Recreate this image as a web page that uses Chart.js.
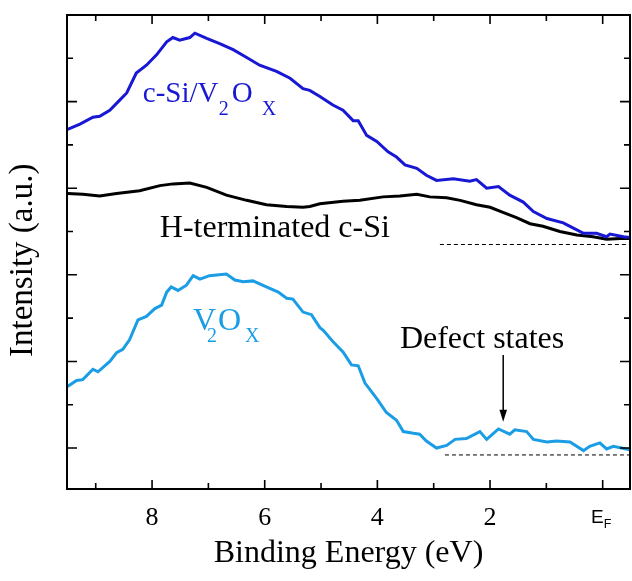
<!DOCTYPE html>
<html><head><meta charset="utf-8">
<script src="https://cdn.jsdelivr.net/npm/chart.js@4.4.1/dist/chart.umd.min.js"></script>
<style>html,body{margin:0;padding:0;background:#fff}#wrap{width:632px;height:581px}</style>
</head><body><div id="wrap"><canvas id="c" width="632" height="581"></canvas></div>
<script>
const SERIF = '"Liberation Serif", "Times New Roman", serif';
const SANS = '"Liberation Sans", Arial, sans-serif';

// axis ranges (eV, arbitrary intensity units)
const energyMin = -0.485, energyMax = 9.51;
const intensityMin = 0.527, intensityMax = 6.0;
const xTickValues = [8, 6, 4, 2, 0];
const xTickLabels = ['8', '6', '4', '2', 'E  '];

// c-Si/V2Ox spectrum
const cSiV2OxE = [9.50,9.28,9.05,8.93,8.75,8.57,8.45,8.28,8.10,7.92,7.74,7.63,7.51,7.33,7.24,7.03,6.80,6.56,6.32,6.09,5.79,5.55,5.32,5.20,5.02,4.79,4.61,4.43,4.34,4.19,4.01,3.81,3.66,3.51,3.30,3.13,2.95,2.65,2.36,2.24,2.06,1.85,1.65,1.41,1.23,0.99,0.70,0.52,0.34,0.11,-0.07,-0.13,-0.37,-0.48];
const cSiV2OxI = [4.68,4.74,4.82,4.83,4.90,5.02,5.10,5.33,5.42,5.54,5.69,5.74,5.71,5.74,5.79,5.73,5.67,5.60,5.51,5.42,5.35,5.27,5.15,5.13,5.06,4.96,4.90,4.78,4.78,4.61,4.54,4.42,4.36,4.27,4.23,4.15,4.09,4.11,4.08,4.10,4.00,4.02,3.92,3.84,3.73,3.65,3.60,3.54,3.48,3.48,3.44,3.47,3.44,3.43];

// H-terminated c-Si spectrum
const hSiE = [9.50,9.23,8.93,8.63,8.22,7.86,7.63,7.33,7.03,6.68,6.32,5.97,5.61,5.32,5.20,5.02,4.90,4.61,4.31,3.90,3.60,3.30,3.07,2.77,2.53,2.24,2.00,1.77,1.53,1.29,1.06,0.76,0.46,0.17,-0.07,-0.31,-0.48];
const hSiI = [3.94,3.93,3.91,3.94,3.97,4.03,4.05,4.06,4.01,3.92,3.86,3.81,3.79,3.78,3.79,3.82,3.83,3.85,3.86,3.90,3.91,3.93,3.90,3.89,3.86,3.81,3.78,3.72,3.66,3.59,3.56,3.50,3.46,3.44,3.41,3.42,3.42];

// V2Ox spectrum
const v2oxE = [9.50,9.34,9.23,9.05,8.96,8.75,8.63,8.52,8.40,8.25,8.10,7.95,7.83,7.74,7.66,7.54,7.39,7.27,7.15,6.98,6.68,6.53,6.38,6.21,5.97,5.76,5.61,5.50,5.32,5.17,5.02,4.96,4.79,4.61,4.46,4.34,4.22,4.01,3.84,3.66,3.54,3.36,3.25,3.13,2.95,2.77,2.62,2.42,2.18,2.06,1.85,1.65,1.56,1.35,1.23,0.99,0.82,0.58,0.34,0.23,0.05,-0.07,-0.19,-0.48];
const v2oxI = [1.71,1.78,1.79,1.91,1.88,2.00,2.10,2.14,2.25,2.48,2.52,2.61,2.65,2.80,2.86,2.82,2.88,2.99,2.95,2.99,3.01,2.94,2.92,2.93,2.86,2.80,2.73,2.72,2.57,2.54,2.39,2.36,2.23,2.11,1.96,1.95,1.75,1.57,1.41,1.32,1.19,1.17,1.16,1.08,1.00,1.03,1.10,1.11,1.19,1.10,1.22,1.16,1.21,1.19,1.10,1.07,1.08,1.07,0.97,1.02,1.06,0.99,1.02,0.98];

// background reference (dashed) lines
const baseUpperE = [2.89, -0.49];
const baseUpperI = [3.35, 3.35];
const baseLowerE = [2.80, -0.49];
const baseLowerI = [0.92, 0.92];

const BLUE = '#1717d4';
const LIGHT = '#1b9de6';

const zip = (xs, ys) => xs.map((x, i) => ({x, y: ys[i]}));

const decorPlugin = {
  id: 'decor',
  afterDraw(chart) {
    const {ctx, chartArea: a, scales: {x: xs, y: ys}} = chart;
    ctx.save();
    // frame
    ctx.strokeStyle = '#000';
    ctx.lineWidth = 2;
    ctx.strokeRect(a.left, a.top, a.right - a.left, a.bottom - a.top);
    // inward ticks
    ctx.lineWidth = 1.6;
    ctx.beginPath();
    xs.ticks.forEach(t => {
      const v = t.value, r = Math.round(v);
      if (Math.abs(v - r) > 1e-6) return;
      const p = xs.getPixelForValue(v);
      const len = (r % 2 === 0) ? 9 : 6;
      ctx.moveTo(p, a.bottom); ctx.lineTo(p, a.bottom - len);
      ctx.moveTo(p, a.top); ctx.lineTo(p, a.top + len);
    });
    ys.ticks.forEach(t => {
      const v = t.value, r2 = Math.round(v * 2);
      if (Math.abs(v * 2 - r2) > 1e-6) return;
      const p = ys.getPixelForValue(v);
      if (p < a.top + 2 || p > a.bottom - 2) return;
      const len = (r2 % 2 === 0) ? 10 : 6;
      ctx.moveTo(a.left, p); ctx.lineTo(a.left + len, p);
      ctx.moveTo(a.right, p); ctx.lineTo(a.right - len, p);
    });
    ctx.stroke();

    // subscript F of E_F
    const pf = xs.getPixelForValue(0);
    ctx.fillStyle = '#000';
    ctx.textBaseline = 'alphabetic';
    ctx.textAlign = 'left';
    ctx.font = '12.5px ' + SANS;
    ctx.fillText('F', pf + 1, 528);

    // curve labels
    const txt = (s, ex, iy, dx, dy, size, color) => {
      ctx.font = size + 'px ' + SERIF;
      ctx.fillStyle = color;
      ctx.fillText(s, xs.getPixelForValue(ex) + dx, ys.getPixelForValue(iy) + dy);
    };
    // c-Si/V2OX
    txt('c-Si/V', 8.165, 5.00, 0, 0, 29, BLUE);
    txt('2', 8.165, 5.00, 76, 13, 20, BLUE);
    txt('O', 8.165, 5.00, 89, 0, 29, BLUE);
    txt('X', 8.165, 5.00, 119, 13, 20, BLUE);
    // H-terminated c-Si
    txt('H-terminated c-Si', 7.863, 3.436, 0, 0, 32, '#000');
    // V2OX
    txt('V', 7.275, 2.363, 0, 0, 32, LIGHT);
    txt('2', 7.275, 2.363, 14, 12, 20, LIGHT);
    txt('O', 7.275, 2.363, 25, 0, 32, LIGHT);
    txt('X', 7.275, 2.363, 52, 12, 20, LIGHT);
    // Defect states
    txt('Defect states', 3.60, 2.155, 0, 0, 32, '#000');

    // arrow
    const ax = xs.getPixelForValue(1.766);
    const y0 = ys.getPixelForValue(2.074), y1 = ys.getPixelForValue(1.304);
    ctx.strokeStyle = '#000';
    ctx.lineWidth = 1.5;
    ctx.beginPath(); ctx.moveTo(ax, y0); ctx.lineTo(ax, y1 - 10); ctx.stroke();
    ctx.fillStyle = '#000';
    ctx.beginPath(); ctx.moveTo(ax - 3.8, y1 - 12); ctx.lineTo(ax + 3.8, y1 - 12); ctx.lineTo(ax, y1); ctx.closePath(); ctx.fill();
    ctx.restore();
  }
};

new Chart(document.getElementById('c'), {
  type: 'line',
  data: {
    datasets: [
      {label: 'c-Si/V2Ox', data: zip(cSiV2OxE, cSiV2OxI), borderColor: BLUE, borderWidth: 3},
      {label: 'H-terminated c-Si', data: zip(hSiE, hSiI), borderColor: '#000', borderWidth: 3},
      {label: 'V2Ox', data: zip(v2oxE, v2oxI), borderColor: LIGHT, borderWidth: 3},
      {label: 'baseline 1', data: zip(baseUpperE, baseUpperI), borderColor: '#000', borderWidth: 1, borderDash: [4, 3]},
      {label: 'baseline 2', data: zip(baseLowerE, baseLowerI), borderColor: '#000', borderWidth: 1, borderDash: [4, 3]}
    ]
  },
  options: {
    responsive: false,
    animation: false,
    devicePixelRatio: 1,
    parsing: true,
    elements: {point: {radius: 0}, line: {tension: 0, fill: false}},
    layout: {padding: {top: 15, right: 2, left: 0, bottom: 0}},
    plugins: {legend: {display: false}, tooltip: {enabled: false}},
    scales: {
      x: {
        type: 'linear', reverse: true, min: energyMin, max: energyMax,
        grid: {display: false, drawTicks: false},
        border: {display: false},
        ticks: {
          stepSize: 1, includeBounds: false, autoSkip: false, maxRotation: 0, padding: 13.6,
          color: '#000',
          font: (ctx) => (ctx.tick && ctx.tick.value === 0) ? {family: SANS, size: 19, lineHeight: 1.6} : {family: SERIF, size: 26},
          callback: (v) => { const i = xTickValues.indexOf(v); return i >= 0 ? xTickLabels[i] : ''; }
        },
        title: {display: true, text: 'Binding Energy (eV)', color: '#000', font: {family: SERIF, size: 32}, padding: {top: 0, bottom: 8}},
        afterFit: (s) => { s.height = 92; }
      },
      y: {
        type: 'linear', min: intensityMin, max: intensityMax,
        grid: {display: false, drawTicks: false},
        border: {display: false},
        ticks: {display: false, stepSize: 0.5, includeBounds: false, maxTicksLimit: 100},
        title: {display: true, text: 'Intensity (a.u.)  ', color: '#000', font: {family: SERIF, size: 33}, padding: {top: 4, bottom: 0}},
        afterFit: (s) => { s.width = 67; }
      }
    }
  },
  plugins: [decorPlugin]
});
</script>
</body></html>
